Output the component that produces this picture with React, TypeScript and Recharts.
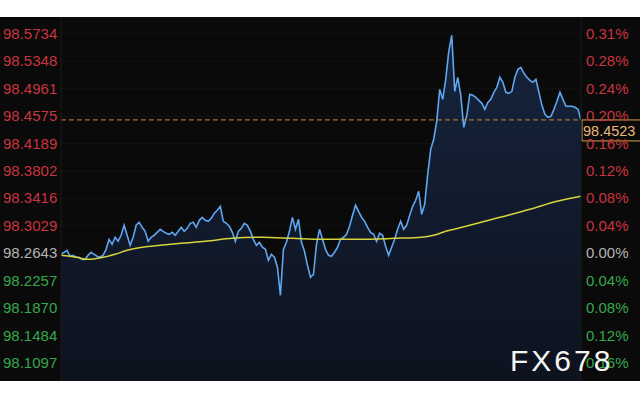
import { ComposedChart, Area, Line, XAxis, YAxis, CartesianGrid, ReferenceLine } from "recharts";

// USD index intraday, previous close as base
const BASE = 98.2643;
const LAST = 98.4523;

const Y_TICKS = [
  98.5734, 98.5348, 98.4961, 98.4575, 98.4189, 98.3802, 98.3416,
  98.3029, 98.2643, 98.2257, 98.187, 98.1484, 98.1097,
];

const PRICE = [
  98.2629, 98.2657, 98.2685, 98.2601, 98.2615, 98.2587, 98.2587, 98.2558, 98.2558, 98.2615,
  98.2657, 98.2629, 98.2601, 98.2587, 98.2615, 98.2699, 98.284, 98.277, 98.2869, 98.2812,
  98.2897, 98.3038, 98.2897, 98.2756, 98.2869, 98.3038, 98.308, 98.3009, 98.2953, 98.2812,
  98.2869, 98.2897, 98.2939, 98.2981, 98.2953, 98.2925, 98.2911, 98.2939, 98.2897, 98.2953,
  98.3009, 98.2953, 98.2995, 98.3066, 98.308, 98.3009, 98.3108, 98.315, 98.3108, 98.3094,
  98.3136, 98.3207, 98.3249, 98.3305, 98.3094, 98.3066, 98.3024, 98.2939, 98.2812, 98.2953,
  98.2995, 98.3066, 98.3038, 98.2953, 98.284, 98.2756, 98.2798, 98.2728, 98.2699, 98.2544,
  98.2629, 98.2587, 98.2446, 98.2051, 98.2699, 98.2798, 98.2953, 98.315, 98.2981, 98.3122,
  98.2798, 98.2671, 98.2474, 98.2305, 98.2347, 98.277, 98.2981, 98.284, 98.2699, 98.2615,
  98.2601, 98.2657, 98.2728, 98.284, 98.2869, 98.2911, 98.3024, 98.3179, 98.332, 98.3235,
  98.315, 98.3094, 98.3009, 98.2939, 98.2911, 98.2812, 98.2925, 98.2897, 98.2742, 98.2615,
  98.2728, 98.284, 98.2981, 98.3094, 98.2981, 98.3038, 98.3179, 98.3305, 98.339, 98.3517,
  98.3193, 98.3334, 98.3756, 98.4109, 98.425, 98.4503, 98.4954, 98.4813, 98.5095, 98.549,
  98.5715, 98.4926, 98.5124, 98.487, 98.4419, 98.4588, 98.4884, 98.487, 98.4842, 98.4799,
  98.4757, 98.4672, 98.4771, 98.4813, 98.4912, 98.4983, 98.5124, 98.5053, 98.4912, 98.4898,
  98.4926, 98.5124, 98.5236, 98.5264, 98.518, 98.5124, 98.5081, 98.5053, 98.5095, 98.4912,
  98.4729, 98.4602, 98.456, 98.4574, 98.4672, 98.4785, 98.4912, 98.4813, 98.4715, 98.4715,
  98.4715, 98.4701, 98.4672, 98.4523,
];

// moving average, read at a few points along the curve
const MA_AT = [0, 5, 9, 14, 18, 22, 27, 33, 40, 48, 57, 67, 77, 87, 99, 111, 120, 124, 128, 136, 146, 156, 165, 173];
const MA = [
  98.2615, 98.2587, 98.2558, 98.2587, 98.2629, 98.2685, 98.2728, 98.2756, 98.2784, 98.2812,
  98.2854, 98.2869, 98.2854, 98.284, 98.284, 98.2854, 98.2869, 98.2897, 98.2953, 98.3038,
  98.315, 98.3263, 98.3376, 98.3446,
];

const RED = "#c9343e";
const GREEN = "#36a84c";
const GREY = "#b4b4b4";
const FONT = "Liberation Sans, Arial, sans-serif";

const priceData = PRICE.map((p, i) => ({ i, p }));
const maData = MA.map((m, k) => ({ i: MA_AT[k], m }));

function tickColor(v: number) {
  if (Math.abs(v - BASE) < 1e-6) return GREY;
  return v > BASE ? RED : GREEN;
}

function pct(v: number) {
  return Math.abs(((v - BASE) / BASE) * 100).toFixed(2) + "%";
}

const LeftTick = (props: any) => {
  const { y, payload } = props;
  return (
    <text x={3} y={y} dy={5} textAnchor="start" fontSize={15} fontFamily={FONT} fill={tickColor(payload.value)}>
      {payload.value.toFixed(4)}
    </text>
  );
};

const RightTick = (props: any) => {
  const { x, y, payload } = props;
  return (
    <text x={x + 3} y={y} dy={5} textAnchor="start" fontSize={15} fontFamily={FONT} fill={tickColor(payload.value)}>
      {pct(payload.value)}
    </text>
  );
};

const LastLabel = (props: any) => {
  const vb = props.viewBox;
  const x = vb.x + vb.width + 1;
  const y = vb.y;
  return (
    <g>
      <rect x={x} y={y} width={60} height={21} fill="#0a0a0a" stroke="#d89e4c" strokeWidth={1} />
      <text x={x + 1} y={y + 16} fontSize={14.5} fontFamily={FONT} fill="#eab878">
        {LAST.toFixed(4)}
      </text>
    </g>
  );
};

export default function App() {
  const domain = [98.0843, 98.5974];
  return (
    <div style={{ position: "absolute", left: 0, top: 0, width: 640, height: 400, background: "#fff" }}>
      <div style={{ position: "absolute", left: 0, top: 17, width: 640, height: 364, background: "#0a0a0a" }}>
        <ComposedChart width={640} height={364} data={priceData} margin={{ top: 0, right: 0, bottom: 0, left: 0 }}>
          <defs>
            <linearGradient id="areaFill" x1="0" y1="0" x2="0" y2="1">
              <stop offset="0%" stopColor="#16243c" stopOpacity={1} />
              <stop offset="100%" stopColor="#0d121e" stopOpacity={1} />
            </linearGradient>
          </defs>
          <CartesianGrid vertical={false} stroke="#131313" yAxisId="left" />
          <XAxis type="number" dataKey="i" domain={[0, 173]} hide allowDataOverflow />
          <YAxis
            yAxisId="left"
            domain={domain}
            ticks={Y_TICKS}
            interval={0}
            width={61}
            allowDataOverflow
            axisLine={{ stroke: "#1a1a1a" }}
            tickLine={false}
            tickSize={0}
            tick={<LeftTick />}
          />
          <YAxis
            yAxisId="right"
            orientation="right"
            domain={domain}
            ticks={Y_TICKS}
            interval={0}
            width={59}
            allowDataOverflow
            axisLine={{ stroke: "#1a1a1a" }}
            tickLine={false}
            tickSize={0}
            tick={<RightTick />}
          />
          <Area
            yAxisId="left"
            type="linear"
            dataKey="p"
            stroke="#5ea6f0"
            strokeWidth={1.6}
            fill="url(#areaFill)"
            fillOpacity={1}
            dot={false}
            activeDot={false}
            isAnimationActive={false}
          />
          <Line
            yAxisId="right"
            data={maData}
            type="monotone"
            dataKey="m"
            stroke="#d6d43c"
            strokeWidth={1.5}
            dot={false}
            activeDot={false}
            isAnimationActive={false}
          />
          <ReferenceLine
            yAxisId="left"
            y={LAST}
            stroke="#c8843a"
            strokeDasharray="5 3"
            label={<LastLabel />}
          />
        </ComposedChart>
      </div>
      <div
        style={{
          position: "absolute",
          left: 510,
          top: 343,
          color: "#f4f4f4",
          fontSize: 30,
          letterSpacing: 3,
          fontFamily: FONT,
          lineHeight: "36px",
        }}
      >
        FX678
      </div>
    </div>
  );
}
